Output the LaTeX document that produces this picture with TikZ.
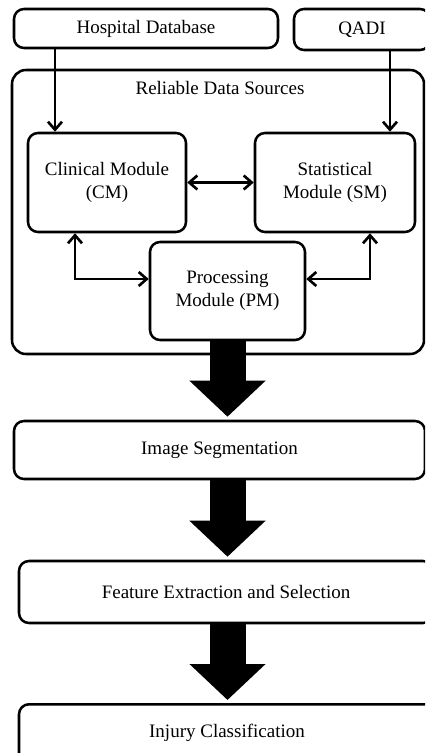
\documentclass[tikz,border=0pt]{standalone}
\usepackage{fontspec}
\setmainfont{Liberation Serif}
\usetikzlibrary{arrows.meta}

\tikzset{
  box/.style={draw, line width=1.9pt, rounded corners=7.5pt, align=center, inner sep=0pt},
  conn/.style={line width=2pt, -{Straight Barb[length=6pt,width=10.5pt]}},
  twoway/.style={line width=2pt, {Straight Barb[length=6pt,width=10.5pt]}-{Straight Barb[length=6pt,width=10.5pt]}},
  bigarrow/.style={line width=27pt, -{Triangle[length=27pt,width=55.5pt]}, shorten >=2.25pt}
}

\begin{document}
\begin{tikzpicture}[x=0.75pt, y=-0.75pt, font=\fontsize{14.25}{17.25}\selectfont]
    \useasboundingbox (0,0) rectangle (425,753);
    \clip (0,0) rectangle (425,753);

    % データ源
    \node [box, minimum width=198pt, minimum height=29.25pt] (hosp) at (146,28.5) {Hospital Database};
    \node [box, minimum width=102pt, minimum height=30.75pt] (qadi) at (362,29.5) {QADI};

    % 外枠
    \node [box, rounded corners=10.5pt, minimum width=309pt, minimum height=213pt] (rds) at (218,212) {};
    \node (rdstitle) at (220,88) {Reliable Data Sources};

    % モジュール
    \node [box, minimum width=118.5pt, minimum height=74.25pt] (cm) at (107,182.5) {Clinical Module\\(CM)};
    \node [box, minimum width=120pt, minimum height=74.25pt] (sm) at (335,182.5) {Statistical\\Module (SM)};
    \node [box, minimum width=116.25pt, minimum height=73.5pt] (pm) at (227.5,291) {Processing\\Module (PM)};

    % 後段の処理
    \node [box, minimum width=308.25pt, minimum height=43.5pt] (seg) at (219.5,450) {Image Segmentation};
    \node [box, minimum width=310.5pt, minimum height=46.5pt] (feat) at (226,592) {Feature Extraction and Selection};
    \node [box, anchor=north, minimum width=312pt, minimum height=60pt, text height=10pt, text depth=20pt] (inj) at (227,703) {Injury Classification};

    % 矢印
    \coordinate (hx) at (55,0);
    \coordinate (qx) at (390,0);
    \coordinate (lx) at (75,279);
    \coordinate (rx) at (370,279);
    \coordinate (ax) at (227.5,0);
    \draw [conn] (hosp.south -| hx) -- (cm.north -| hx);
    \draw [conn] (qadi.south -| qx) -- (sm.north -| qx);
    \draw [twoway] (cm.east) -- (sm.west);
    \draw [twoway] (cm.south -| lx) |- (pm.west |- lx);
    \draw [twoway] (sm.south -| rx) |- (pm.east |- rx);

    % 太い矢印
    \draw [bigarrow] (pm.south -| ax) -- (seg.north -| ax);
    \draw [bigarrow] (seg.south -| ax) -- (feat.north -| ax);
    \draw [bigarrow] (feat.south -| ax) -- (inj.north -| ax);

\end{tikzpicture}
\end{document}
